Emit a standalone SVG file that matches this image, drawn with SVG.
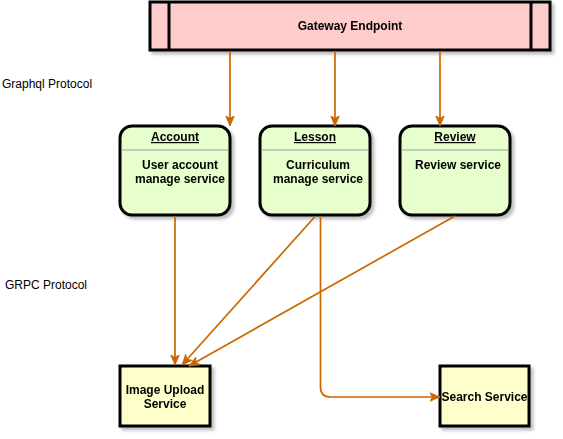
<svg xmlns="http://www.w3.org/2000/svg" width="563" height="439" viewBox="0 0 563 439">
<style>
text{font-family:"Liberation Sans",Arial,sans-serif;font-size:12px;fill:#000}
.b{font-weight:bold;text-anchor:middle}
.u{text-decoration:underline}
.node{stroke:#000;stroke-width:3}
.edge{fill:none;stroke:#CC6600;stroke-width:1.7}
</style>
<defs>
<filter id="sh" x="-10%" y="-10%" width="130%" height="130%">
<feGaussianBlur in="SourceAlpha" stdDeviation="1.5"/>
<feOffset dx="3" dy="3"/>
<feComponentTransfer><feFuncA type="linear" slope="0.25"/></feComponentTransfer>
<feMerge><feMergeNode/><feMergeNode in="SourceGraphic"/></feMerge>
</filter>
<marker id="ar" viewBox="0 0 11 10" refX="10.5" refY="5" markerWidth="11" markerHeight="10" orient="auto" markerUnits="userSpaceOnUse">
<path d="M0,0.5 L10.5,5 L0,9.5 L3,5 Z" fill="#CC6600" stroke="#CC6600" stroke-width="0.8"/>
</marker>
</defs>
<text x="2" y="88">Graphql Protocol</text>
<text x="5" y="289">GRPC Protocol</text>
<g id="gateway" filter="url(#sh)">
<rect class="node" x="150" y="2" width="400" height="48" fill="#FFCCCC"/>
<line x1="169" y1="2" x2="169" y2="50" stroke="#000" stroke-width="3"/>
<line x1="531" y1="2" x2="531" y2="50" stroke="#000" stroke-width="3"/>
<text class="b" x="350" y="30">Gateway Endpoint</text>
</g>
<g id="account" filter="url(#sh)">
<rect class="node" x="120" y="126" width="110" height="89" rx="12" fill="#E6FFCC"/>
<line x1="121" y1="150" x2="229" y2="150" stroke="#999" stroke-width="1"/>
<text class="b u" x="175" y="141">Account</text>
<text class="b" x="180" y="169">User account</text>
<text class="b" x="180" y="183">manage service</text>
</g>
<g id="lesson" filter="url(#sh)">
<rect class="node" x="260" y="126" width="110" height="89" rx="12" fill="#E6FFCC"/>
<line x1="261" y1="150" x2="369" y2="150" stroke="#999" stroke-width="1"/>
<text class="b u" x="315" y="141">Lesson</text>
<text class="b" x="318" y="169">Curriculum</text>
<text class="b" x="318" y="183">manage service</text>
</g>
<g id="review" filter="url(#sh)">
<rect class="node" x="400" y="126" width="110" height="89" rx="12" fill="#E6FFCC"/>
<line x1="401" y1="150" x2="509" y2="150" stroke="#999" stroke-width="1"/>
<text class="b u" x="455" y="141">Review</text>
<text class="b" x="458" y="169">Review service</text>
</g>
<g id="imageupload" filter="url(#sh)">
<rect class="node" x="120" y="366" width="90" height="60" fill="#FFFFCC"/>
<text class="b" x="165" y="394">Image Upload</text>
<text class="b" x="165" y="408">Service</text>
</g>
<g id="search" filter="url(#sh)">
<rect class="node" x="440" y="366" width="89" height="60" fill="#FFFFCC"/>
<text class="b" x="484.5" y="401">Search Service</text>
</g>
<g id="connectors">
<path class="edge" d="M230,51 V126" marker-end="url(#ar)"/>
<path class="edge" d="M335,51 V126" marker-end="url(#ar)"/>
<path class="edge" d="M440,51 V126" marker-end="url(#ar)"/>
<path class="edge" d="M175,216 V365" marker-end="url(#ar)"/>
<path class="edge" d="M315.5,216 L182,365" marker-end="url(#ar)"/>
<path class="edge" d="M455,216 L189,366" marker-end="url(#ar)"/>
<path class="edge" d="M320.5,216 V387 Q320.5,397 330.5,397 H440" marker-end="url(#ar)"/>
</g>
</svg>
